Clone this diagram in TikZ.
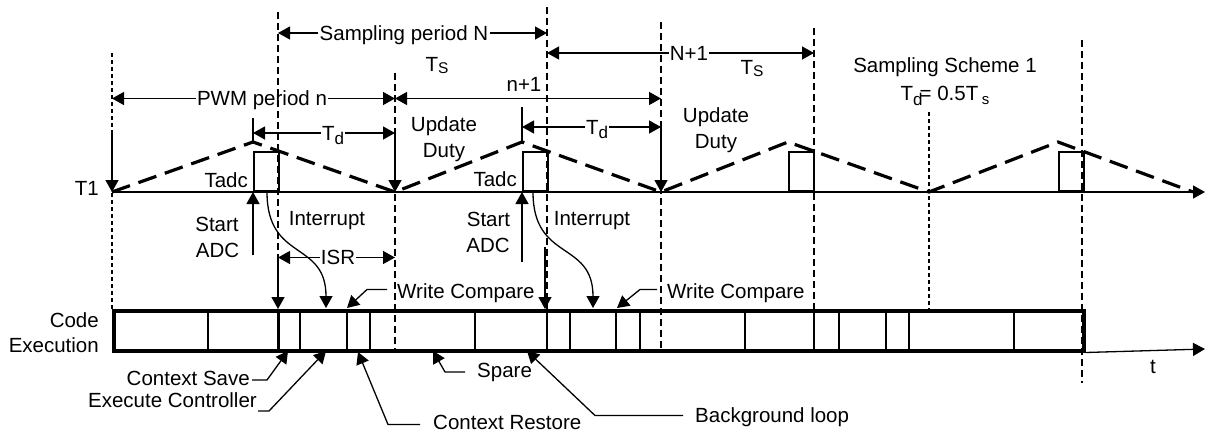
\documentclass[tikz,border=0pt]{standalone}
\usepackage{fontspec}
\setmainfont{Liberation Sans}
\usetikzlibrary{arrows.meta}
\newcommand{\Tsub}[1]{T\raisebox{-1.5pt}{\fontsize{15.5}{15}\selectfont #1}}
\newcommand{\Tdd}{T\raisebox{-4pt}{\fontsize{17}{17}\selectfont d}}
\begin{document}
\begin{tikzpicture}[x=1pt,y=-1pt,
  >={Triangle[length=12pt,width=13pt]},
  txt/.style={font=\fontsize{20.5}{24}\selectfont, inner sep=1pt, text height=15.6pt, text depth=1pt},
  thin/.style={line width=1.3pt},
  vd/.style={line width=1.2pt, dash pattern=on 7pt off 4pt},
  vdf/.style={line width=1.1pt, dash pattern=on 4pt off 3pt},
  wave/.style={line width=3.2pt, dash pattern=on 19pt off 9pt},
  adcbox/.style={draw, line width=2.4pt, minimum width=25pt, minimum height=39pt, inner sep=0pt, anchor=south west},
  div/.style={line width=2pt}]
\useasboundingbox (0,0) rectangle (1206,431);

% vertical reference positions
\coordinate (vA) at (112,0);
\coordinate (vB) at (278,0);
\coordinate (vC) at (395,0);
\coordinate (vD) at (547,0);
\coordinate (vE) at (661,0);
\coordinate (vF) at (814,0);
\coordinate (vG) at (929,0);
\coordinate (vH) at (1082,0);

% dashed verticals
\draw[vdf] (112,53) -- (112,309);
\draw[vd] (278,12) -- (278,349);
\draw[vd] (395,73) -- (395,352);
\draw[vd] (547,7) -- (547,352);
\draw[vd] (661,22) -- (661,349);
\draw[vd] (814,28) -- (814,352);
\draw[vdf] (929,112) -- (929,309);
\draw[vd] (1082,40) -- (1082,383);

% T1 axis
\coordinate (t1s) at (112,192);
\coordinate (t1e) at (1205,192);
\draw[thin,->] (t1s) -- (t1e);
\node[txt,anchor=east] (t1) at (100,188.5) {T1};

% ADC boxes
\node[adcbox] (adc1) at (253,192) {};
\node[adcbox] (adc2) at (522,192) {};
\node[adcbox] (adc3) at (788,192) {};
\node[adcbox] (adc4) at (1058,192) {};

% triangle carrier
\draw[wave] (112,192) -- (253,142) -- (395,192) -- (522,142) -- (661,192) -- (788,142) -- (929,192) -- (1058,142) -- (1193,192);

% code execution box
\node[draw, line width=3.5pt, minimum width=970pt, minimum height=40pt, inner sep=0pt, anchor=north west] (code) at (112,309) {};
\foreach \x in {208,300,347,370,475,547,570,616,640,745,814,839,886,909,1014}
  \draw[div] (\x,309) -- (\x,349);
\draw[line width=3pt] (278,309) -- (278,349);
\draw[thin,->] (code.south east) -- (1205,349);
\node[txt] (t) at (1153,366) {t};
\node[txt,anchor=east] (code1) at (100,320) {Code};
\node[txt,anchor=east] (code2) at (100,345) {Execution};

% sampling period dimension lines
\node[txt] (spN) at (404,33) {Sampling period N};
\draw[thin,->] (spN.west) -- (spN.west -| vB);
\draw[thin,->] (spN.east) -- (spN.east -| vD);
\node[txt] (ts1) at (437,64.5) {\Tsub{S}};
\node[txt] (np1) at (689,53) {N+1};
\draw[thin,->] (np1.west) -- (np1.west -| vD);
\draw[thin,->] (np1.east) -- (np1.east -| vF);
\node[txt] (ts2) at (752,67.5) {\Tsub{S}};

% PWM period dimension lines
\node[txt] (pwm) at (262,98.5) {PWM period n};
\draw[thin,->] (pwm.west) -- (pwm.west -| vA);
\draw[thin,->] (pwm.east) -- (pwm.east -| vC);
\node[txt] (n1) at (524,84) {n+1};
\draw[thin,<->] (pwm.east -| vC) -- (pwm.east -| vE);

% Td dimension lines
\coordinate (pk1) at (253,142);
\coordinate (pk2) at (522,142);
\node[txt] (td1) at (333,133) {\Tdd};
\draw[thin] (253,118) -- (pk1);
\draw[thin,->] (td1.west) -- (td1.west -| pk1);
\draw[thin,->] (td1.east) -- (td1.east -| vC);
\draw[thin,->] (td1.east -| vC) -- (vC |- t1s);
\draw[thin,->] (td1.west -| vA) -- (t1s);
\node[txt] (td2) at (597,127) {\Tdd};
\draw[thin] (522,107) -- (pk2);
\draw[thin,->] (td2.west) -- (td2.west -| pk2);
\draw[thin,->] (td2.east) -- (td2.east -| vE);
\draw[thin,->] (td2.east -| vE) -- (vE |- t1s);

% Update Duty labels
\node[txt] (up1a) at (444,124.5) {Update};
\node[txt] (up1b) at (444,150.5) {Duty};
\node[txt] (up2a) at (716,115) {Update};
\node[txt] (up2b) at (716,141.5) {Duty};

% Tadc labels
\node[txt,anchor=east] (tadc1) at (249,180) {Tadc};
\node[txt,anchor=east] (tadc2) at (518,179.5) {Tadc};

% Start ADC
\node[txt] (st1) at (217,224.5) {Start};
\node[txt] (ad1) at (217.5,250.5) {ADC};
\node[txt] (st2) at (488.5,219.5) {Start};
\node[txt] (ad2) at (488,245.5) {ADC};
\coordinate (sa1) at (253,255);
\coordinate (sa2) at (522,262);
\draw[thin,->] (sa1) -- (adc1.south west);
\draw[thin,->] (sa2) -- (adc2.south west);

% Interrupt
\node[txt] (int1) at (327,218.5) {Interrupt};
\node[txt] (int2) at (592,218.5) {Interrupt};
\coordinate (ic1) at (267,192);
\coordinate (ic2) at (533,192);
\coordinate (it1) at (326,308);
\coordinate (it2) at (593,308);
\draw[thin,->] (ic1) .. controls (267,262) and (326,240) .. (it1);
\draw[thin,->] (ic2) .. controls (533,262) and (593,240) .. (it2);

% ISR
\node[txt] (isr) at (338,257.5) {ISR};
\draw[thin,->] (isr.west) -- (isr.west -| vB);
\draw[thin,->] (isr.east) -- (isr.east -| vC);
\draw[thin,->] (isr.west -| vB) -- (vB |- code.north);
\coordinate (ia2) at (545,247);
\draw[thin,->] (ia2) -- (ia2 |- code.north);

% Write Compare
\node[txt,anchor=west] (wc1) at (396,291.5) {Write Compare};
\node[txt,anchor=west] (wc2) at (666,291.5) {Write Compare};
\coordinate (wt1) at (347,308);
\coordinate (wt2) at (617,308);
\draw[thin,->] ([shift={(-9pt,2pt)}]wc1.west) -- ++(-20,0) -- (wt1);
\draw[thin,->] ([shift={(-9pt,2pt)}]wc2.west) -- ++(-17,0) -- (wt2);

% bottom labels
\node[txt,anchor=east] (cs) at (251,378.5) {Context Save};
\node[txt,anchor=east] (ec) at (258,400) {Execute Controller};
\node[txt,anchor=west] (sp) at (476,370) {Spare};
\node[txt,anchor=west,text depth=0pt] (cr) at (432,421.5) {Context Restore};
\node[txt,anchor=west] (bg) at (694,415.5) {Background loop};
\coordinate (cst) at (288,351);
\coordinate (ect) at (326,351);
\coordinate (spt) at (433,351);
\coordinate (crt) at (358,352);
\coordinate (bgt) at (527,351);
\draw[thin,->] ([shift={(1pt,-1.5pt)}]cs.east) -- ++(15,0) -- (cst);
\draw[thin,->] ([yshift=-11pt]ec.east) -- ++(11,0) -- (ect);
\draw[thin,->] ([shift={(-11pt,-2pt)}]sp.west) -- ++(-20,0) -- (spt);
\draw[thin,->] ([shift={(-12pt,-3pt)}]cr.west) -- ++(-32,0) -- (crt);
\draw[thin,->] ([xshift=-11pt]bg.west) -- ++(-88,0) -- (bgt);

% scheme label
\node[txt] (ss) at (945,65.5) {Sampling Scheme 1};
\node[txt] (tdeq) at (945,93.5) {T\raisebox{-5pt}{\fontsize{17}{17}\selectfont d}\hspace{-3pt}= 0.5T\,\raisebox{-4pt}{\fontsize{15}{15}\selectfont s}};
\end{tikzpicture}
\end{document}
